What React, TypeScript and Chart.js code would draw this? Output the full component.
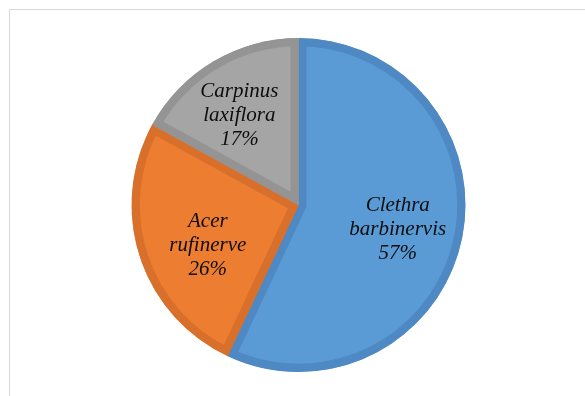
import React, { useEffect, useRef } from "react";
import { Chart, registerables } from "chart.js";

Chart.register(...registerables);

// Species share of stems
const speciesNames: string[][] = [
  ["Clethra", "barbinervis"],
  ["Acer", "rufinerve"],
  ["Carpinus", "laxiflora"],
];
const shares: number[] = [57, 26, 17];
const fillColors: string[] = ["#5B9BD5", "#ED7D31", "#A5A5A5"];
const edgeColors: string[] = ["#4F89C4", "#D8702B", "#949494"];

// Label placement inside each slice: fraction of radius and angular nudge (degrees)
const labelRadius: number[] = [0.61, 0.59, 0.65];
const labelNudge: number[] = [0.5, -5, -2.4];

const W = 585;
const H = 396;
const LABEL_FONT = 'italic 21px "Liberation Serif", "Times New Roman", serif';

const sliceLabels = {
  id: "sliceLabels",
  afterDraw(chart: Chart) {
    const ctx = chart.ctx;
    const meta = chart.getDatasetMeta(0);
    const total = shares.reduce((a, b) => a + b, 0);
    ctx.save();
    ctx.font = LABEL_FONT;
    ctx.fillStyle = "#0d0d0d";
    ctx.textAlign = "center";
    ctx.textBaseline = "middle";
    meta.data.forEach((el: any, i: number) => {
      const p = el.getProps(["x", "y", "startAngle", "endAngle", "outerRadius"], true);
      const mid = (p.startAngle + p.endAngle) / 2 + (labelNudge[i] * Math.PI) / 180;
      const r = p.outerRadius * labelRadius[i];
      const cx = p.x + Math.cos(mid) * r;
      const cy = p.y + Math.sin(mid) * r + 1.5;
      const pct = Math.round((shares[i] / total) * 100) + "%";
      const lines = [...speciesNames[i], pct];
      const lh = 24;
      lines.forEach((t, k) => {
        ctx.fillText(t, cx, cy + (k - (lines.length - 1) / 2) * lh);
      });
    });
    ctx.restore();
  },
};

export default function App() {
  const ref = useRef<HTMLCanvasElement | null>(null);

  useEffect(() => {
    if (!ref.current) return;
    const chart = new Chart(ref.current, {
      type: "pie",
      data: {
        labels: speciesNames.map((n) => n.join(" ")),
        datasets: [
          {
            data: shares,
            backgroundColor: fillColors,
            borderColor: edgeColors,
            borderWidth: 8,
            borderAlign: "inner",
            borderJoinStyle: "miter",
            hoverOffset: 0,
          } as any,
        ],
      },
      options: {
        responsive: false,
        animation: false,
        layout: { padding: { top: 38, bottom: 24, left: 131, right: 119 } },
        plugins: {
          legend: { display: false },
          tooltip: { enabled: false },
        },
      },
      plugins: [sliceLabels],
    });
    return () => chart.destroy();
  }, []);

  return (
    <div
      style={{
        position: "fixed",
        left: 0,
        top: 0,
        width: W,
        height: H,
        overflow: "hidden",
        background: "#ffffff",
      }}
    >
      <div
        style={{
          position: "absolute",
          left: 9,
          top: 9,
          width: 620,
          height: 440,
          border: "1px solid #D9D9D9",
        }}
      />
      <canvas
        ref={ref}
        width={W}
        height={H}
        style={{ position: "absolute", left: 0, top: 0, width: W, height: H }}
      />
    </div>
  );
}
